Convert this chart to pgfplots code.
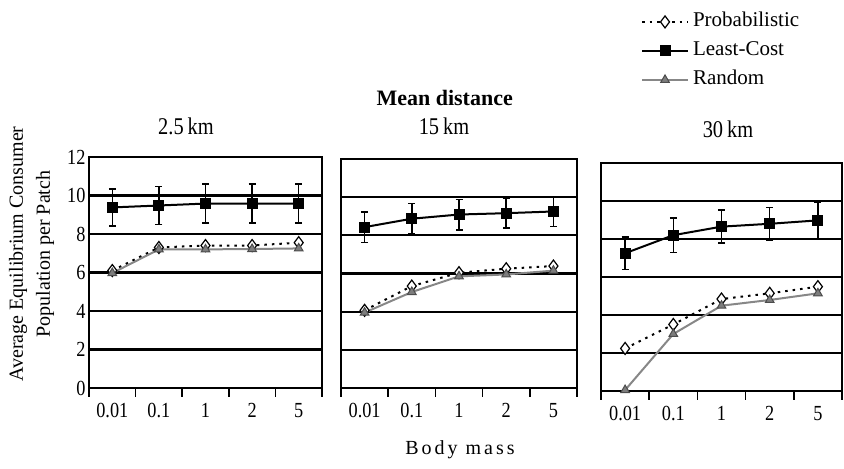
\documentclass[border=0pt]{standalone}
\usepackage{pgfplots}
\pgfplotsset{compat=1.18}
\usepackage{pgfplotstable}
\usepackage{fontspec}
\setmainfont{Liberation Serif}
\newfontfamily\narrowfont{Liberation Serif}[FakeStretch=0.85]
\newfontfamily\spacedfont{Liberation Serif}[LetterSpace=15]
\usetikzlibrary{plotmarks}
\definecolor{rndgray}{RGB}{135,135,135}
\definecolor{trifill}{RGB}{125,125,125}

% 2.5 km
\pgfplotstableread{
x y e
0.5 9.38 0.97
1.5 9.48 1.00
2.5 9.58 1.02
3.5 9.58 1.02
4.5 9.58 1.02
}\lcA
\pgfplotstableread{
x y
0.5 6.10
1.5 7.30
2.5 7.40
3.5 7.40
4.5 7.55
}\prA
\pgfplotstableread{
x y
0.5 5.97
1.5 7.20
2.5 7.20
3.5 7.22
4.5 7.25
}\rnA
% 15 km
\pgfplotstableread{
x y e
0.5 8.43 0.80
1.5 8.87 0.80
2.5 9.09 0.80
3.5 9.16 0.78
4.5 9.25 0.78
}\lcB
\pgfplotstableread{
x y
0.5 4.07
1.5 5.34
2.5 6.04
3.5 6.25
4.5 6.39
}\prB
\pgfplotstableread{
x y
0.5 3.95
1.5 5.03
2.5 5.85
3.5 5.95
4.5 6.15
}\rnB
% 30 km
\pgfplotstableread{
x y e
0.5 7.25 0.85
1.5 8.20 0.90
2.5 8.65 0.87
3.5 8.80 0.87
4.5 8.98 0.95
}\lcC
\pgfplotstableread{
x y
0.5 2.24
1.5 3.50
2.5 4.84
3.5 5.14
4.5 5.49
}\prC
\pgfplotstableread{
x y
0.5 0.05
1.5 3.00
2.5 4.49
3.5 4.79
4.5 5.14
}\rnC

\pgfplotsset{
  panel/.style={
    scale only axis, anchor=south west,
    xmin=0, xmax=5, ymin=0, ymax=12,
    xtick={0.5,1.5,2.5,3.5,4.5}, xticklabels={0.01,0.1,1,2,5},
    minor xtick={0,1,2,3,4,5},
    ytick={0,2,...,12},
    xtick pos=bottom, ytick pos=left,
    major tick length=0pt, minor tick length=9bp,
    tick align=outside,
    minor x tick style={line width=1.6bp, black},
    ymajorgrids, grid style={black, line width=2.2bp},
    axis line style={line width=1.8bp},
    tick label style={font=\narrowfont\fontsize{21.5bp}{24bp}\selectfont},
    xticklabel style={yshift=-12bp},
    /pgf/number format/assume math mode=true,
    clip=false,
    legend cell align=left,
    legend image code/.code={
      \draw[mark repeat=2,mark phase=2,##1] plot coordinates {(0bp,0bp) (23bp,0bp) (46bp,0bp)};
    },
  },
  prs/.style={black, line width=2bp, dash pattern=on 2.5bp off 5bp,
    mark=diamond*, mark size=6bp, mark options={solid, fill=white, draw=black, line width=1.2bp}},
  rns/.style={rndgray, line width=2bp,
    mark=triangle*, mark size=5bp, mark options={solid, fill=trifill, draw=black!70, line width=1bp}},
  lcs/.style={black, line width=2bp,
    mark=square*, mark size=4.5bp, mark options={solid},
    error bars/.cd, y dir=both, y explicit,
    error bar style={line width=1.5bp, solid},
    error mark options={rotate=90, line width=1.5bp, mark size=3.5bp, black}},
}

\begin{document}
\begin{tikzpicture}[x=1bp, y=1bp]
\path (0,0) rectangle (844,469);

\begin{axis}[panel, at={(89bp,81bp)}, width=233bp, height=231bp]
\addplot[prs] table[x=x,y=y] {\prA};
\addplot[lcs] table[x=x,y=y,y error=e] {\lcA};
\addplot[rns] table[x=x,y=y] {\rnA};
\end{axis}

\begin{axis}[panel, at={(341bp,81bp)}, width=236bp, height=229bp, yticklabels={}]
\addplot[prs] table[x=x,y=y] {\prB};
\addplot[lcs] table[x=x,y=y,y error=e] {\lcB};
\addplot[rns] table[x=x,y=y] {\rnB};
\end{axis}

\begin{axis}[panel, at={(601bp,78bp)}, width=241bp, height=228bp, yticklabels={},
  legend style={draw=none, fill=none, inner sep=0pt, outer sep=0pt,
    at={(0.166,1.667)}, anchor=north west,
    nodes={inner sep=1bp, font=\fontsize{21bp}{24bp}\selectfont, text depth=5bp, text height=15bp},
    row sep=7bp, column sep=3bp}]
\addplot[prs] table[x=x,y=y] {\prC};
\addlegendentry{Probabilistic}
\addplot[lcs] table[x=x,y=y,y error=e] {\lcC};
\addlegendentry{Least-Cost}
\addplot[rns] table[x=x,y=y] {\rnC};
\addlegendentry{Random}
\end{axis}

\node[anchor=base west, font=\bfseries\fontsize{22bp}{26bp}\selectfont] at (373,363) {Mean distance};
\node[anchor=base, font=\narrowfont\fontsize{24bp}{28bp}\selectfont] at (186,334) {2.5\,km};
\node[anchor=base, font=\narrowfont\fontsize{24bp}{28bp}\selectfont] at (444,334) {15\,km};
\node[anchor=base, font=\narrowfont\fontsize{24bp}{28bp}\selectfont] at (728,331) {30\,km};
\node[rotate=90, font=\fontsize{20bp}{24bp}\selectfont] at (18,215) {Average Equilibrium Consumer};
\node[rotate=90, font=\fontsize{20bp}{24bp}\selectfont] at (45,215) {Population per Patch};
\node[anchor=base, font=\spacedfont\fontsize{20bp}{24bp}\selectfont] at (460,14) {Body mass};
\end{tikzpicture}
\end{document}
